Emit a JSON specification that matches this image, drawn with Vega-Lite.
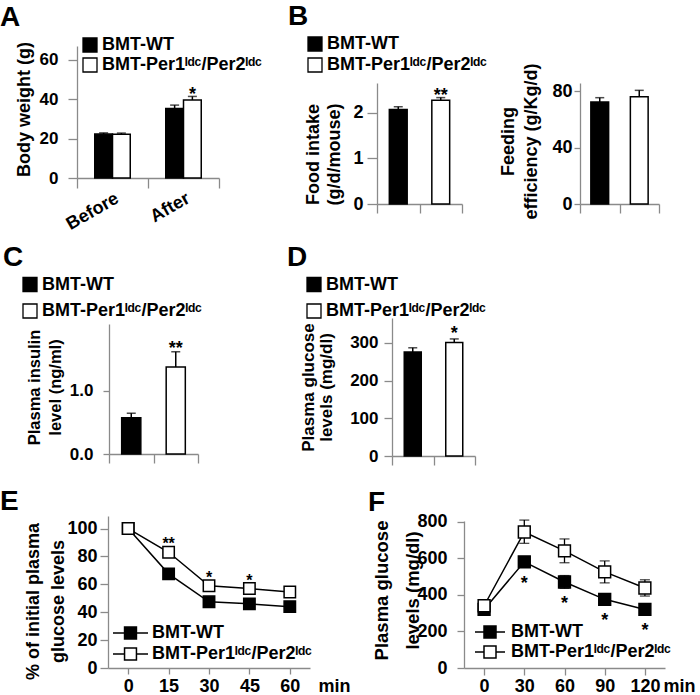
{
"$schema": "https://vega.github.io/schema/vega-lite/v6.json",
"padding": {"left": 0, "top": 3, "right": 0, "bottom": 0},
"background": "white",
"config": {
  "font": "Liberation Sans",
  "view": {"stroke": null},
  "axis": {"grid": false, "domainColor": "#8a8a8a", "domainWidth": 1.3, "tickColor": "#8a8a8a", "tickWidth": 1.3, "labelColor": "black", "labelFontWeight": "bold", "labelFontSize": 17, "labelFont": "Liberation Sans", "titleFont": "Liberation Sans", "titleColor": "black", "titleFontWeight": "bold", "titleFontSize": 18, "titleLineHeight": 21},
  "axisY": {"tickSize": 8, "labelPadding": 4, "labelOverlap": false},
  "axisX": {"tickSize": 9},
  "legend": {"orient": "none", "title": null, "padding": 0, "labelFont": "Liberation Sans", "labelFontSize": 18, "labelFontWeight": "bold", "labelColor": "black", "labelLimit": 400, "symbolStrokeColor": "black", "symbolStrokeWidth": 1.3, "symbolType": "square", "symbolSize": 196, "labelOffset": 3, "rowPadding": 2, "clipHeight": 18},
  "title": {"font": "Liberation Sans", "fontSize": 28, "fontWeight": "bold", "anchor": "start", "frame": "group", "color": "black", "baseline": "alphabetic", "offset": 4}
},
"datasets": {
  "A": [
    {"time": "Before", "series": "BMT-WT", "mean": 22.3, "hi": 22.9, "sig": ""},
    {"time": "Before", "series": "BMT-Per1ˡᵈᶜ/Per2ˡᵈᶜ", "mean": 22.2, "hi": 22.8, "sig": ""},
    {"time": "After", "series": "BMT-WT", "mean": 35.3, "hi": 37.0, "sig": ""},
    {"time": "After", "series": "BMT-Per1ˡᵈᶜ/Per2ˡᵈᶜ", "mean": 39.6, "hi": 41.4, "sig": "*"}
  ],
  "B1": [
    {"series": "BMT-WT", "mean": 2.07, "hi": 2.13, "sig": ""},
    {"series": "BMT-Per1ˡᵈᶜ/Per2ˡᵈᶜ", "mean": 2.27, "hi": 2.33, "sig": "**"}
  ],
  "B2": [
    {"series": "BMT-WT", "mean": 72.3, "hi": 75.3},
    {"series": "BMT-Per1ˡᵈᶜ/Per2ˡᵈᶜ", "mean": 76.0, "hi": 80.5}
  ],
  "C": [
    {"series": "BMT-WT", "mean": 0.576, "hi": 0.646, "sig": ""},
    {"series": "BMT-Per1ˡᵈᶜ/Per2ˡᵈᶜ", "mean": 1.38, "hi": 1.62, "sig": "**"}
  ],
  "D": [
    {"series": "BMT-WT", "mean": 276, "hi": 287, "sig": ""},
    {"series": "BMT-Per1ˡᵈᶜ/Per2ˡᵈᶜ", "mean": 301, "hi": 310.5, "sig": "*"}
  ],
  "E": [
    {"time": 0, "series": "BMT-WT", "mean": 100, "lo": 99, "hi": 101, "sig": ""},
    {"time": 15, "series": "BMT-WT", "mean": 67.5, "lo": 65, "hi": 70, "sig": ""},
    {"time": 30, "series": "BMT-WT", "mean": 47.5, "lo": 45.5, "hi": 49.5, "sig": ""},
    {"time": 45, "series": "BMT-WT", "mean": 46, "lo": 44, "hi": 48, "sig": ""},
    {"time": 60, "series": "BMT-WT", "mean": 44, "lo": 41.5, "hi": 46.5, "sig": ""},
    {"time": 0, "series": "BMT-Per1ˡᵈᶜ/Per2ˡᵈᶜ", "mean": 100, "lo": 99, "hi": 101, "sig": ""},
    {"time": 15, "series": "BMT-Per1ˡᵈᶜ/Per2ˡᵈᶜ", "mean": 83, "lo": 81, "hi": 85, "sig": "**"},
    {"time": 30, "series": "BMT-Per1ˡᵈᶜ/Per2ˡᵈᶜ", "mean": 59, "lo": 57, "hi": 61, "sig": "*"},
    {"time": 45, "series": "BMT-Per1ˡᵈᶜ/Per2ˡᵈᶜ", "mean": 57, "lo": 55, "hi": 59, "sig": "*"},
    {"time": 60, "series": "BMT-Per1ˡᵈᶜ/Per2ˡᵈᶜ", "mean": 54.5, "lo": 52.5, "hi": 56.5, "sig": ""}
  ],
  "F": [
    {"time": 0, "series": "BMT-WT", "mean": 320, "lo": 305, "hi": 335, "sig": ""},
    {"time": 30, "series": "BMT-WT", "mean": 580, "lo": 560, "hi": 600, "sig": "*"},
    {"time": 60, "series": "BMT-WT", "mean": 470, "lo": 435, "hi": 505, "sig": "*"},
    {"time": 90, "series": "BMT-WT", "mean": 375, "lo": 355, "hi": 395, "sig": "*"},
    {"time": 120, "series": "BMT-WT", "mean": 320, "lo": 305, "hi": 335, "sig": "*"},
    {"time": 0, "series": "BMT-Per1ˡᵈᶜ/Per2ˡᵈᶜ", "mean": 340, "lo": 320, "hi": 360, "sig": ""},
    {"time": 30, "series": "BMT-Per1ˡᵈᶜ/Per2ˡᵈᶜ", "mean": 743, "lo": 681, "hi": 808, "sig": ""},
    {"time": 60, "series": "BMT-Per1ˡᵈᶜ/Per2ˡᵈᶜ", "mean": 640, "lo": 575, "hi": 705, "sig": ""},
    {"time": 90, "series": "BMT-Per1ˡᵈᶜ/Per2ˡᵈᶜ", "mean": 525, "lo": 465, "hi": 585, "sig": ""},
    {"time": 120, "series": "BMT-Per1ˡᵈᶜ/Per2ˡᵈᶜ", "mean": 437, "lo": 393, "hi": 482, "sig": ""}
  ]
},
"concat": [
  {
    "title": {"text": "A", "dx": -77, "offset": 4},
    "width": 300, "height": 132,
    "data": {"name": "A"},
    "encoding": {
      "x": {"field": "time", "type": "nominal", "sort": ["Before", "After"], "scale": {"paddingInner": 0, "paddingOuter": 0, "range": [0, 142]},
            "axis": {"title": null, "labelAngle": -30, "tickBand": "extent", "tickSize": 10, "labelPadding": 1, "labelFontSize": 18}},
      "xOffset": {"field": "series", "type": "nominal", "sort": ["BMT-WT", "BMT-Per1ˡᵈᶜ/Per2ˡᵈᶜ"], "scale": {"paddingInner": 0, "paddingOuter": 1.09}}
    },
    "layer": [
      {"mark": {"type": "bar", "stroke": "black", "strokeWidth": 1.5},
       "encoding": {
         "y": {"field": "mean", "type": "quantitative", "scale": {"domain": [0, 67]},
               "axis": {"title": "Body weight (g)", "values": [0, 20, 40, 60], "titleX": -44, "titleY": 63, "tickSize": 9, "labelPadding": 10}},
         "fill": {"field": "series", "type": "nominal", "scale": {"domain": ["BMT-WT", "BMT-Per1ˡᵈᶜ/Per2ˡᵈᶜ"], "range": ["black", "white"]},
                  "legend": {"legendX": 4, "legendY": -10}}
       }},
      {"mark": {"type": "rule", "color": "black", "strokeWidth": 1.5},
       "encoding": {"y": {"field": "mean", "type": "quantitative", "scale": {"domain": [0, 67]}}, "y2": {"field": "hi"}}},
      {"mark": {"type": "tick", "color": "black", "thickness": 1.5, "size": 9},
       "encoding": {"y": {"field": "hi", "type": "quantitative", "scale": {"domain": [0, 67]}}}},
      {"transform": [{"filter": "datum.sig != ''"}],
       "mark": {"type": "text", "color": "black", "fontSize": 18, "fontWeight": "bold", "baseline": "alphabetic", "dy": 4},
       "encoding": {"y": {"field": "hi", "type": "quantitative", "scale": {"domain": [0, 67]}}, "text": {"field": "sig"}}}
    ]
  },
  {
    "title": {"text": "B", "dx": -89, "offset": 4},
    "width": 282, "height": 158,
    "layer": [
      {
        "data": {"name": "B1"},
        "encoding": {
          "x": {"field": "series", "type": "nominal", "sort": ["BMT-WT", "BMT-Per1ˡᵈᶜ/Per2ˡᵈᶜ"], "scale": {"paddingInner": 0, "paddingOuter": 0, "range": [0, 85]},
                "axis": {"orient": "bottom", "title": null, "labels": false, "tickBand": "extent", "tickSize": 9}}
        },
        "layer": [
          {"mark": {"type": "bar", "stroke": "black", "strokeWidth": 1.5, "width": {"band": 0.42}},
           "encoding": {
             "y": {"field": "mean", "type": "quantitative", "scale": {"domain": [0, 2.65], "range": [158, 37]},
                   "axis": {"orient": "left", "title": ["Food intake", "(g/d/mouse)"], "values": [0, 1, 2], "format": ".0f", "titleX": -55, "titleY": 108, "tickSize": 10, "labelPadding": 4, "labelFontSize": 18}},
             "fill": {"field": "series", "type": "nominal", "scale": {"domain": ["BMT-WT", "BMT-Per1ˡᵈᶜ/Per2ˡᵈᶜ"], "range": ["black", "white"]},
                      "legend": {"legendX": -71, "legendY": -11, "rowPadding": 3}}
           }},
          {"mark": {"type": "rule", "color": "black", "strokeWidth": 1.5},
           "encoding": {"y": {"field": "mean", "type": "quantitative", "scale": {"domain": [0, 2.65], "range": [158, 37]}}, "y2": {"field": "hi"}}},
          {"mark": {"type": "tick", "color": "black", "thickness": 1.5, "size": 9},
           "encoding": {"y": {"field": "hi", "type": "quantitative", "scale": {"domain": [0, 2.65], "range": [158, 37]}}}},
          {"transform": [{"filter": "datum.sig != ''"}],
           "mark": {"type": "text", "color": "black", "fontSize": 18, "fontWeight": "bold", "baseline": "alphabetic", "dy": 3},
           "encoding": {"y": {"field": "hi", "type": "quantitative", "scale": {"domain": [0, 2.65], "range": [158, 37]}}, "text": {"field": "sig"}}}
        ]
      },
      {
        "data": {"name": "B2"},
        "encoding": {
          "x": {"field": "series", "type": "nominal", "sort": ["BMT-WT", "BMT-Per1ˡᵈᶜ/Per2ˡᵈᶜ"], "scale": {"paddingInner": 0, "paddingOuter": 0, "range": [203, 282]},
                "axis": {"orient": "bottom", "title": null, "labels": false, "tickBand": "extent", "tickSize": 9}}
        },
        "layer": [
          {"mark": {"type": "bar", "stroke": "black", "strokeWidth": 1.5, "width": {"band": 0.45}},
           "encoding": {
             "y": {"field": "mean", "type": "quantitative", "scale": {"domain": [0, 85.7], "range": [158, 37]},
                   "axis": {"orient": "left", "offset": -203, "title": ["Feeding\u00a0\u00a0\u00a0\u00a0\u00a0\u00a0\u00a0\u00a0\u00a0\u00a0\u00a0\u00a0", "efficiency (g/Kg/d)"], "values": [0, 40, 80], "titleX": -63, "titleY": 95, "titleLineHeight": 23, "tickSize": 6, "labelPadding": 2, "labelFontSize": 18}},
             "fill": {"field": "series", "type": "nominal", "scale": {"domain": ["BMT-WT", "BMT-Per1ˡᵈᶜ/Per2ˡᵈᶜ"], "range": ["black", "white"]}, "legend": null}
           }},
          {"mark": {"type": "rule", "color": "black", "strokeWidth": 1.5},
           "encoding": {"y": {"field": "mean", "type": "quantitative", "scale": {"domain": [0, 85.7], "range": [158, 37]}}, "y2": {"field": "hi"}}},
          {"mark": {"type": "tick", "color": "black", "thickness": 1.5, "size": 9},
           "encoding": {"y": {"field": "hi", "type": "quantitative", "scale": {"domain": [0, 85.7], "range": [158, 37]}}}}
        ]
      }
    ],
    "resolve": {"scale": {"x": "independent", "y": "independent", "fill": "independent"}, "axis": {"x": "independent", "y": "independent"}, "legend": {"fill": "independent"}}
  },
  {
    "title": {"text": "C", "dx": -74, "offset": -68},
    "width": 300, "height": 250,
    "data": {"name": "C"},
    "encoding": {
      "x": {"field": "series", "type": "nominal", "sort": ["BMT-WT", "BMT-Per1ˡᵈᶜ/Per2ˡᵈᶜ"], "scale": {"paddingInner": 0, "paddingOuter": 0, "range": [32, 121]},
            "axis": {"title": null, "labels": false, "tickBand": "extent", "tickSize": 9}}
    },
    "layer": [
      {"mark": {"type": "bar", "stroke": "black", "strokeWidth": 1.5, "width": {"band": 0.43}},
       "encoding": {
         "y": {"field": "mean", "type": "quantitative", "scale": {"domain": [0, 2.06], "range": [250, 120]},
               "axis": {"title": ["Plasma insulin", "level (ng/ml)"], "values": [0, 1], "format": ".1f", "offset": -32, "titleX": -67, "titleY": 183, "titleFontSize": 16.5, "tickSize": 6, "labelPadding": 10}},
         "fill": {"field": "series", "type": "nominal", "scale": {"domain": ["BMT-WT", "BMT-Per1ˡᵈᶜ/Per2ˡᵈᶜ"], "range": ["black", "white"]},
                  "legend": {"legendX": -56, "legendY": 71.5, "rowPadding": 8.5}}
       }},
      {"mark": {"type": "rule", "color": "black", "strokeWidth": 1.5},
       "encoding": {"y": {"field": "mean", "type": "quantitative", "scale": {"domain": [0, 2.06], "range": [250, 120]}}, "y2": {"field": "hi"}}},
      {"mark": {"type": "tick", "color": "black", "thickness": 1.5, "size": 9},
       "encoding": {"y": {"field": "hi", "type": "quantitative", "scale": {"domain": [0, 2.06], "range": [250, 120]}}}},
      {"transform": [{"filter": "datum.sig != ''"}],
       "mark": {"type": "text", "color": "black", "fontSize": 18, "fontWeight": "bold", "baseline": "alphabetic", "dy": 2},
       "encoding": {"y": {"field": "hi", "type": "quantitative", "scale": {"domain": [0, 2.06], "range": [250, 120]}}, "text": {"field": "sig"}}}
    ]
  },
  {
    "title": {"text": "D", "dx": -90, "offset": -68},
    "width": 98, "height": 252,
    "data": {"name": "D"},
    "encoding": {
      "x": {"field": "series", "type": "nominal", "sort": ["BMT-WT", "BMT-Per1ˡᵈᶜ/Per2ˡᵈᶜ"], "scale": {"paddingInner": 0, "paddingOuter": 0, "range": [15, 98]},
            "axis": {"title": null, "labels": false, "tickBand": "extent", "tickSize": 9}}
    },
    "layer": [
      {"mark": {"type": "bar", "stroke": "black", "strokeWidth": 1.5, "width": {"band": 0.41}},
       "encoding": {
         "y": {"field": "mean", "type": "quantitative", "scale": {"domain": [0, 366], "range": [252, 114]},
               "axis": {"title": ["Plasma glucose", "levels  (mg/dl)"], "values": [0, 100, 200, 300], "offset": -15, "titleX": -75, "titleY": 183, "titleFontSize": 17, "titleLineHeight": 18, "tickSize": 8, "labelPadding": 6}},
         "fill": {"field": "series", "type": "nominal", "scale": {"domain": ["BMT-WT", "BMT-Per1ˡᵈᶜ/Per2ˡᵈᶜ"], "range": ["black", "white"]},
                  "legend": {"legendX": -72, "legendY": 71.5, "rowPadding": 8.5}}
       }},
      {"mark": {"type": "rule", "color": "black", "strokeWidth": 1.5},
       "encoding": {"y": {"field": "mean", "type": "quantitative", "scale": {"domain": [0, 366], "range": [252, 114]}}, "y2": {"field": "hi"}}},
      {"mark": {"type": "tick", "color": "black", "thickness": 1.5, "size": 9},
       "encoding": {"y": {"field": "hi", "type": "quantitative", "scale": {"domain": [0, 366], "range": [252, 114]}}}},
      {"transform": [{"filter": "datum.sig != ''"}],
       "mark": {"type": "text", "color": "black", "fontSize": 18, "fontWeight": "bold", "baseline": "alphabetic", "dy": 0},
       "encoding": {"y": {"field": "hi", "type": "quantitative", "scale": {"domain": [0, 366], "range": [252, 114]}}, "text": {"field": "sig"}}}
    ]
  },
  {
    "title": {"text": "E", "dx": -77, "offset": -60},
    "width": 300, "height": 212,
    "data": {"name": "E"},
    "encoding": {
      "x": {"field": "time", "type": "ordinal", "scale": {"type": "point", "range": [31, 233], "padding": 0.5},
            "axis": {"title": "min", "titleX": 241, "titleY": 9, "titleAlign": "left", "titleBaseline": "top", "titleFontSize": 18, "labelAngle": 0, "tickSize": 6, "labelPadding": 3, "labelFontSize": 18}}
    },
    "layer": [
      {"mark": {"type": "line", "color": "black", "strokeWidth": 1.5},
       "encoding": {"y": {"field": "mean", "type": "quantitative", "scale": {"domain": [0, 109], "range": [212, 60]},
                          "axis": {"title": ["% of initial plasma", "glucose levels"], "values": [0, 20, 40, 60, 80, 100], "offset": -31, "titleX": -65.5, "titleY": 145, "titleLineHeight": 24.5, "tickSize": 8, "labelPadding": 3, "labelFontSize": 18, "labelOverlap": false}},
                    "detail": {"field": "series"}}},
      {"mark": {"type": "rule", "color": "black", "strokeWidth": 1.3},
       "encoding": {"y": {"field": "lo", "type": "quantitative", "scale": {"domain": [0, 109], "range": [212, 60]}}, "y2": {"field": "hi"}}},
      {"mark": {"type": "tick", "color": "black", "thickness": 1.3, "size": 8},
       "encoding": {"y": {"field": "lo", "type": "quantitative", "scale": {"domain": [0, 109], "range": [212, 60]}}}},
      {"mark": {"type": "tick", "color": "black", "thickness": 1.3, "size": 8},
       "encoding": {"y": {"field": "hi", "type": "quantitative", "scale": {"domain": [0, 109], "range": [212, 60]}}}},
      {"mark": {"type": "point", "shape": "square", "size": 130, "filled": true, "stroke": "black", "strokeWidth": 1.5, "opacity": 1},
       "encoding": {"y": {"field": "mean", "type": "quantitative", "scale": {"domain": [0, 109], "range": [212, 60]}},
                    "fill": {"field": "series", "type": "nominal", "scale": {"domain": ["BMT-WT", "BMT-Per1ˡᵈᶜ/Per2ˡᵈᶜ"], "range": ["black", "white"]},
                             "legend": {"legendX": 35, "legendY": 166.5, "symbolType": "M-1,0H-0.34M0.34,0H1M-0.34,-0.34H0.34V0.34H-0.34Z", "symbolSize": 1225, "symbolStrokeWidth": 1.5, "clipHeight": 21, "rowPadding": 0, "labelOffset": 3}}}},
      {"transform": [{"filter": "datum.sig != ''"}],
       "mark": {"type": "text", "color": "black", "fontSize": 16, "fontWeight": "bold", "baseline": "alphabetic", "dy": 0},
       "encoding": {"y": {"field": "hi", "type": "quantitative", "scale": {"domain": [0, 109], "range": [212, 60]}}, "text": {"field": "sig"}}}
    ]
  },
  {
    "title": {"text": "F", "dx": -9, "offset": -61},
    "width": 288, "height": 212,
    "data": {"name": "F"},
    "encoding": {
      "x": {"field": "time", "type": "ordinal", "scale": {"type": "point", "range": [87, 288], "padding": 0.5},
            "axis": {"title": "min", "titleX": 286, "titleY": 9, "titleAlign": "left", "titleBaseline": "top", "titleFontSize": 18, "labelAngle": 0, "tickSize": 7, "labelPadding": 2, "labelFontSize": 18}}
    },
    "layer": [
      {"mark": {"type": "line", "color": "black", "strokeWidth": 1.5},
       "encoding": {"y": {"field": "mean", "type": "quantitative", "scale": {"domain": [0, 803], "range": [212, 65]},
                          "axis": {"title": ["Plasma glucose", "levels (mg/dl)"], "values": [0, 200, 400, 600, 800], "offset": -87, "titleX": -73, "titleY": 134, "titleLineHeight": 31, "titleFontSize": 18.5, "tickSize": 7, "labelPadding": 10, "labelFontSize": 18, "labelOverlap": false}},
                    "detail": {"field": "series"}}},
      {"mark": {"type": "rule", "color": "black", "strokeWidth": 1.3},
       "encoding": {"y": {"field": "lo", "type": "quantitative", "scale": {"domain": [0, 803], "range": [212, 65]}}, "y2": {"field": "hi"}}},
      {"mark": {"type": "tick", "color": "black", "thickness": 1.3, "size": 10},
       "encoding": {"y": {"field": "lo", "type": "quantitative", "scale": {"domain": [0, 803], "range": [212, 65]}}}},
      {"mark": {"type": "tick", "color": "black", "thickness": 1.3, "size": 10},
       "encoding": {"y": {"field": "hi", "type": "quantitative", "scale": {"domain": [0, 803], "range": [212, 65]}}}},
      {"mark": {"type": "point", "shape": "square", "size": 140, "filled": true, "stroke": "black", "strokeWidth": 1.5, "opacity": 1},
       "encoding": {"y": {"field": "mean", "type": "quantitative", "scale": {"domain": [0, 803], "range": [212, 65]}},
                    "fill": {"field": "series", "type": "nominal", "scale": {"domain": ["BMT-WT", "BMT-Per1ˡᵈᶜ/Per2ˡᵈᶜ"], "range": ["black", "white"]},
                             "legend": {"legendX": 97, "legendY": 166, "symbolType": "M-1,0H-0.4M0.4,0H1M-0.4,-0.4H0.4V0.4H-0.4Z", "symbolSize": 900, "symbolStrokeWidth": 1.5, "clipHeight": 20, "rowPadding": 0, "labelOffset": 5}}}},
      {"transform": [{"filter": "datum.sig != ''"}],
       "mark": {"type": "text", "color": "black", "fontSize": 18, "fontWeight": "bold", "baseline": "alphabetic", "dy": 27},
       "encoding": {"y": {"field": "mean", "type": "quantitative", "scale": {"domain": [0, 803], "range": [212, 65]}}, "text": {"field": "sig"}}}
    ]
  }
],
"columns": 2,
"spacing": 0,
"bounds": "flush",
"resolve": {"scale": {"fill": "independent"}, "legend": {"fill": "independent"}}
}
